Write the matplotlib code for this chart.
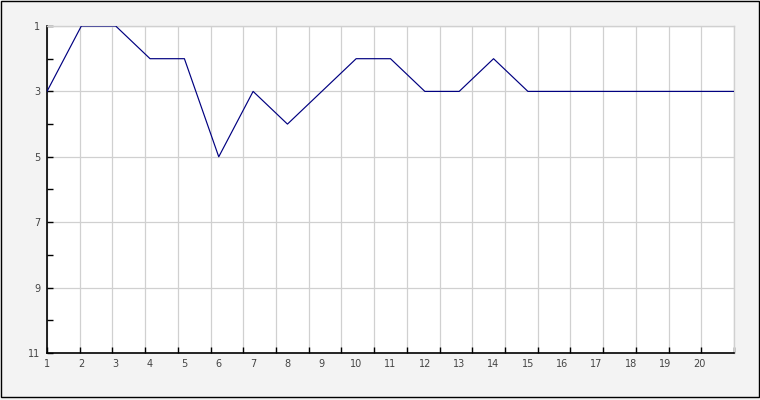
import matplotlib
matplotlib.use("Agg")
import matplotlib.pyplot as plt
from matplotlib.patches import Rectangle
import numpy as np

x_values = list(range(1, 22))
y_values = [3, 1, 1, 2, 2, 5, 3, 4, 3, 2, 2, 3, 3, 2, 3, 3, 3, 3, 3, 3, 3]
x_tick_labels = [str(i) for i in range(1, 21)]
y_tick_labels = ["1", "3", "5", "7", "9", "11"]

W, H = 760, 400
fig = plt.figure(figsize=(W / 100, H / 100), dpi=100, facecolor="#f3f3f3")
fig.patches.append(Rectangle((0.5 / W, 3.5 / H), 758 / W, 396 / H, transform=fig.transFigure,
                             fill=False, edgecolor="black", linewidth=1.0))

ax = fig.add_axes([47 / W, (H - 353) / H, 687 / W, 327 / H])
ax.set_facecolor("white")

ax.plot(x_values, y_values, color="#000080", linewidth=0.85, zorder=3)

ax.set_xlim(1, 21)
ax.set_ylim(11, 1)

ax.xaxis.remove_overlapping_locs = False
ax.yaxis.remove_overlapping_locs = False

# grid / tick positions: 21 equal intervals across the axis
n_int = 21
grid_x = [1 + k * 20 / n_int for k in range(n_int + 1)]
ax.set_xticks(grid_x)
ax.set_xticklabels([])
ax.set_xticks(range(1, 21), minor=True)
ax.set_xticklabels(x_tick_labels, minor=True)
ax.tick_params(axis="x", which="major", direction="in", length=4, width=1, color="black")
ax.tick_params(axis="x", which="minor", length=0, pad=4, labelsize=7, labelcolor="#444444")
ax.xaxis.grid(True, which="major", color="#d0d0d0", linewidth=0.9)

ax.set_yticks([1, 3, 5, 7, 9, 11])
ax.set_yticklabels(y_tick_labels)
ax.set_yticks([2, 4, 6, 8, 10], minor=True)
ax.tick_params(axis="y", which="both", direction="in", length=4, width=1, color="black",
               labelsize=7, labelcolor="#444444", pad=5)
ax.yaxis.grid(True, which="major", color="#d0d0d0", linewidth=0.9)
ax.set_axisbelow(True)

for s in ["left", "bottom"]:
    ax.spines[s].set_color("black")
    ax.spines[s].set_linewidth(1.2)
for s in ["top", "right"]:
    ax.spines[s].set_color("#d0d0d0")
    ax.spines[s].set_linewidth(1.0)

fig.savefig("out.png", dpi=100, facecolor=fig.get_facecolor())
